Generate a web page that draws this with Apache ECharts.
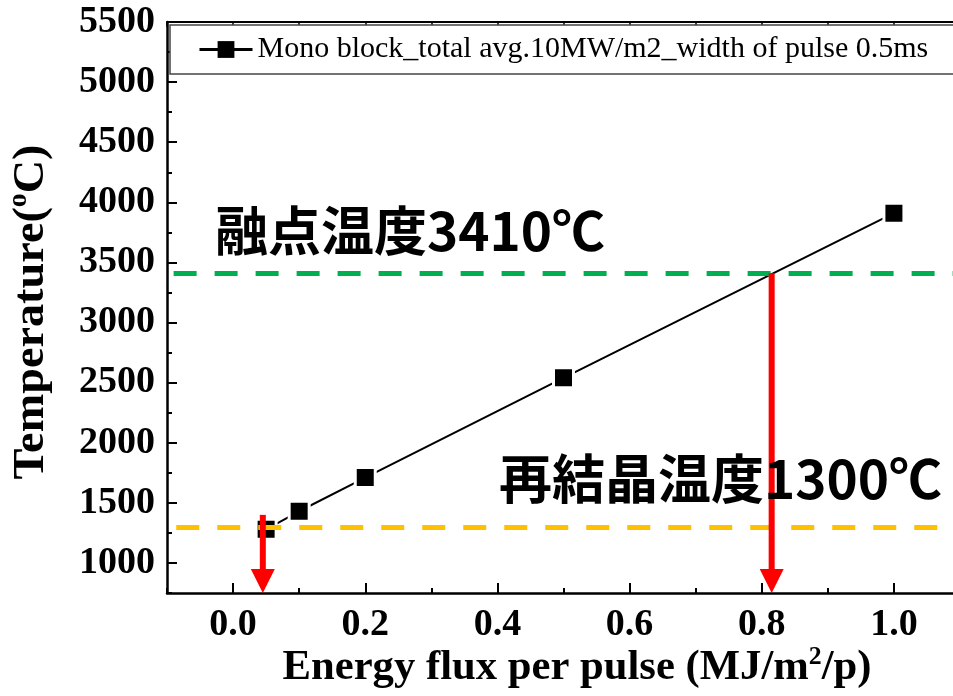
<!DOCTYPE html>
<html>
<head>
<meta charset="utf-8">
<script src="https://cdn.jsdelivr.net/npm/echarts@6/dist/echarts.min.js"></script>
<style>
  html, body { margin: 0; padding: 0; background: #fff; overflow: hidden; }
  /* the plot frame runs past the right edge of the page, so the canvas is a bit wider than the window */
  #chart { width: 972px; height: 696px; }
</style>
</head>
<body>
<div id="chart"></div>
<script>
// Energy flux per pulse (MJ/m2/p) and the resulting surface temperature (°C)
const fluxValues = [0.05, 0.1, 0.2, 0.5, 1.0];
const temperatureValues = [1280, 1430, 1710, 2540, 3910];
const seriesName = 'Mono block_total avg.10MW/m2_width of pulse 0.5ms';

// Reference temperatures and their captions
const meltingPoint = 3410;
const recrystallizationPoint = 1300;
const meltingCaption = '融点温度3410℃';
const recrystallizationCaption = '再結晶温度1300℃';

// Arrows dropped onto the flux axis: [flux, start temperature, end temperature]
const arrowFlux = [0.045, 0.815];
const arrowStart = [1400, 3410];
const arrowEnd = [750, 750];

// Axis ranges and tick labels
const xRange = [-0.1, 1.1];
const yRange = [750, 5500];
const xTickValues = [0, 0.2, 0.4, 0.6, 0.8, 1.0];
const xTickLabels = ['0.0', '0.2', '0.4', '0.6', '0.8', '1.0'];
const yTickValues = [1000, 1500, 2000, 2500, 3000, 3500, 4000, 4500, 5000, 5500];
const yTickLabels = ['1000', '1500', '2000', '2500', '3000', '3500', '4000', '4500', '5000', '5500'];

const xTitleMain = ['Energy flux per pulse (MJ/m', '/p)'];
const xTitleSup = '2';
const yTitleMain = ['Temperature(', 'C)'];
const yTitleSup = 'o';

const serif = '"Liberation Serif", "Times New Roman", serif';
const cjkFont = '"Noto Sans CJK JP", "Noto Sans CJK SC", sans-serif';

function labelFor(values, labels) {
  return function (v) {
    const i = values.findIndex(t => Math.abs(t - v) < 1e-9);
    return i >= 0 ? labels[i] : '';
  };
}

// Fit the axis titles to the lengths they take in the frame
const measureCtx = document.createElement('canvas').getContext('2d');
function measure(font, text) { measureCtx.font = font; return measureCtx.measureText(text).width; }
const xTitleWidth = measure('bold 43px ' + serif, xTitleMain.join('')) + measure('bold 26px ' + serif, xTitleSup);
const yTitleWidth = measure('bold 45px ' + serif, yTitleMain.join('')) + measure('bold 27px ' + serif, yTitleSup);
const xTitleScale = 589 / xTitleWidth;
const yTitleScale = 335 / yTitleWidth;

const chart = echarts.init(document.getElementById('chart'), null, { renderer: 'canvas' });

chart.setOption({
  animation: false,
  backgroundColor: '#fff',
  grid: { left: 167, top: 22, width: 793, height: 571, containLabel: false },
  legend: {
    data: [seriesName],
    left: 170, top: 25,
    padding: [9, 80, 9, 28],
    itemWidth: 53, itemHeight: 21,
    backgroundColor: '#fff',
    borderColor: '#444', borderWidth: 1.5,
    itemStyle: { borderWidth: 0 },
    lineStyle: { width: 3 },
    textStyle: { fontFamily: serif, fontSize: 30, color: '#000', lineHeight: 31 }
  },
  xAxis: [
    { // bottom, labelled major ticks
      type: 'value', position: 'bottom', min: xRange[0], max: xRange[1],
      axisLine: { show: true, onZero: false, lineStyle: { color: '#000', width: 2.5 } },
      axisTick: { show: true, inside: true, length: 10, lineStyle: { width: 2, color: '#000' }, customValues: xTickValues },
      axisLabel: {
        show: true, margin: 13, customValues: xTickValues,
        formatter: labelFor(xTickValues, xTickLabels),
        fontFamily: serif, fontWeight: 'bold', fontSize: 38, color: '#000'
      },
      splitLine: { show: false }
    },
    { // bottom, minor ticks
      type: 'value', position: 'bottom', min: xRange[0], max: xRange[1], interval: 0.1,
      axisLine: { show: false, onZero: false },
      axisTick: { show: true, inside: true, length: 5, lineStyle: { width: 2, color: '#000' } },
      axisLabel: { show: false }, splitLine: { show: false }
    },
    { // top frame, major ticks
      type: 'value', position: 'top', min: xRange[0], max: xRange[1],
      axisLine: { show: true, onZero: false, lineStyle: { color: '#000', width: 2 } },
      axisTick: { show: true, inside: true, length: 10, lineStyle: { width: 1.5, color: '#000' }, customValues: xTickValues },
      axisLabel: { show: false }, splitLine: { show: false }
    },
    { // top frame, minor ticks
      type: 'value', position: 'top', min: xRange[0], max: xRange[1], interval: 0.1,
      axisLine: { show: false, onZero: false },
      axisTick: { show: true, inside: true, length: 5, lineStyle: { width: 1.5, color: '#000' } },
      axisLabel: { show: false }, splitLine: { show: false }
    }
  ],
  yAxis: [
    { // left, labelled major ticks
      type: 'value', position: 'left', min: yRange[0], max: yRange[1],
      axisLine: { show: true, onZero: false, lineStyle: { color: '#000', width: 2.5 } },
      axisTick: { show: true, inside: true, length: 10, lineStyle: { width: 2, color: '#000' }, customValues: yTickValues },
      axisLabel: {
        show: true, margin: 12, customValues: yTickValues,
        formatter: labelFor(yTickValues, yTickLabels),
        fontFamily: serif, fontWeight: 'bold', fontSize: 38, color: '#000'
      },
      splitLine: { show: false }
    },
    { // left, minor ticks
      type: 'value', position: 'left', min: yRange[0], max: yRange[1], interval: 250,
      axisLine: { show: false, onZero: false },
      axisTick: { show: true, inside: true, length: 5, lineStyle: { width: 2, color: '#000' } },
      axisLabel: { show: false }, splitLine: { show: false }
    }
  ],
  series: [
    {
      name: seriesName,
      type: 'line',
      xAxisIndex: 0, yAxisIndex: 0,
      z: 2,
      data: fluxValues.map((x, i) => [x, temperatureValues[i]]),
      symbol: 'rect', symbolSize: 20,
      itemStyle: { color: '#000', borderColor: '#fff', borderWidth: 3 },
      lineStyle: { color: '#000', width: 2 },
      emphasis: { disabled: true }
    },
    {
      name: 'reference temperatures',
      type: 'line',
      xAxisIndex: 0, yAxisIndex: 0,
      z: 3,
      data: [],
      markLine: {
        silent: true, symbol: ['none', 'none'], animation: false,
        label: { show: false },
        emphasis: { disabled: true },
        data: [
          [
            { coord: [-0.09, meltingPoint], lineStyle: { color: '#00b050', width: 5, type: [23, 18] } },
            { coord: [xRange[1], meltingPoint] }
          ],
          [
            { coord: [-0.086, recrystallizationPoint], lineStyle: { color: '#ffc000', width: 5, type: [23, 18] } },
            { coord: [xRange[1], recrystallizationPoint] }
          ]
        ]
      }
    },
    {
      name: 'arrows',
      type: 'custom',
      xAxisIndex: 0, yAxisIndex: 0,
      z: 5, silent: true,
      data: arrowFlux.map((x, i) => [x, arrowStart[i], arrowEnd[i]]),
      encode: { x: 0, y: [1, 2] },
      renderItem: function (params, api) {
        const top = api.coord([api.value(0), api.value(1)]);
        const tip = api.coord([api.value(0), api.value(2)]);
        const shaftW = 6, headW = 24, headH = 24;
        return {
          type: 'group',
          children: [
            { type: 'rect', shape: { x: top[0] - shaftW / 2, y: top[1], width: shaftW, height: tip[1] - headH - top[1] + 1 }, style: { fill: '#ff0000' } },
            { type: 'polygon', shape: { points: [[tip[0] - headW / 2, tip[1] - headH], [tip[0] + headW / 2, tip[1] - headH], [tip[0], tip[1]]] }, style: { fill: '#ff0000' } }
          ]
        };
      }
    }
  ],
  graphic: [
    {
      type: 'text', x: 215, y: 231, z: 10, silent: true,
      style: { text: meltingCaption, fontFamily: cjkFont, fontWeight: 'bold', fontSize: 53, fill: '#000', align: 'left', verticalAlign: 'middle' }
    },
    {
      type: 'text', x: 499, y: 479, z: 10, silent: true,
      style: { text: recrystallizationCaption, fontFamily: cjkFont, fontWeight: 'bold', fontSize: 53, fill: '#000', align: 'left', verticalAlign: 'middle' }
    },
    {
      type: 'text', x: 577, y: 668, z: 10, silent: true, scaleX: xTitleScale,
      style: {
        text: xTitleMain[0] + '{sup|' + xTitleSup + '}' + xTitleMain[1],
        fontFamily: serif, fontWeight: 'bold', fontSize: 43, fill: '#000',
        align: 'center', verticalAlign: 'middle', lineHeight: 48,
        rich: { sup: { fontFamily: serif, fontWeight: 'bold', fontSize: 26, fill: '#000', verticalAlign: 'top', lineHeight: 26 } }
      }
    },
    {
      type: 'text', x: 31, y: 312, z: 10, silent: true, rotation: Math.PI / 2, scaleX: yTitleScale,
      style: {
        text: yTitleMain[0] + '{sup|' + yTitleSup + '}' + yTitleMain[1],
        fontFamily: serif, fontWeight: 'bold', fontSize: 45, fill: '#000',
        align: 'center', verticalAlign: 'middle', lineHeight: 50,
        rich: { sup: { fontFamily: serif, fontWeight: 'bold', fontSize: 27, fill: '#000', verticalAlign: 'top', lineHeight: 27 } }
      }
    }
  ]
});
</script>
</body>
</html>
